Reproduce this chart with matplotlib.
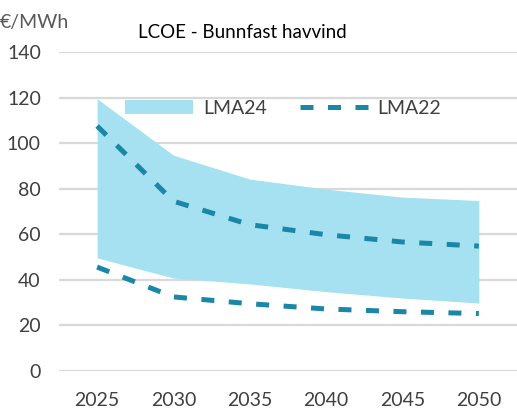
import numpy as np
import matplotlib.pyplot as plt

years = ["2025", "2030", "2035", "2040", "2045", "2050"]
lma24_high = [119.5, 94.7, 84.2, 79.8, 76.3, 74.8]
lma24_low = [49.6, 40.8, 38.2, 34.8, 32.0, 29.8]
lma22_high = [107.5, 74.5, 64.2, 59.8, 56.6, 54.8]
lma22_low = [45.6, 32.5, 29.5, 27.2, 26.0, 25.2]

plt.rcParams["font.family"] = ["Lato", "DejaVu Sans"]

fill_color = "#A6E1F2"
line_color = "#1A87A6"
text_color = "#404040"


def main():
    fig = plt.figure(figsize=(5.17, 4.09), dpi=100)
    ax = fig.add_axes([0.114, 0.093, 0.886, 0.78])

    x = np.arange(len(years))
    ax.fill_between(x, lma24_low, lma24_high, color=fill_color, linewidth=0,
                    label="LMA24")
    ax.plot(x, lma22_high, color=line_color, lw=3.6, dashes=(2.6, 2.9),
            dash_capstyle="butt", label="LMA22")
    ax.plot(x, lma22_low, color=line_color, lw=3.6, dashes=(2.6, 2.9),
            dash_capstyle="butt")

    ax.set_xlim(-0.5, len(years) - 0.5)
    ax.set_ylim(0, 140)
    ax.set_yticks(range(0, 141, 20))
    ax.set_xticks(x)
    ax.set_xticklabels(years)
    ax.yaxis.grid(True, color="#D9D9D9", lw=1.6)
    ax.set_axisbelow(True)
    for s in ax.spines.values():
        s.set_visible(False)
    ax.tick_params(length=0, labelsize=14, colors=text_color, pad=13)
    ax.tick_params(axis="x", pad=15)

    handles, labels = ax.get_legend_handles_labels()
    ax.legend(handles, labels, loc="upper center", ncol=2, frameon=False,
              bbox_to_anchor=(0.49, 0.905), fontsize=14, handlelength=3.5,
              handleheight=0.7, handletextpad=0.5, columnspacing=1.7,
              labelcolor=text_color)

    fig.text(0.0, 0.945, "€/MWh", fontsize=14, color="#595959", va="center")
    fig.text(0.267, 0.92, "LCOE - Bunnfast havvind", fontsize=13.5,
             color="black", va="center")

    fig.savefig("out.png", dpi=100)


if __name__ == "__main__":
    main()
